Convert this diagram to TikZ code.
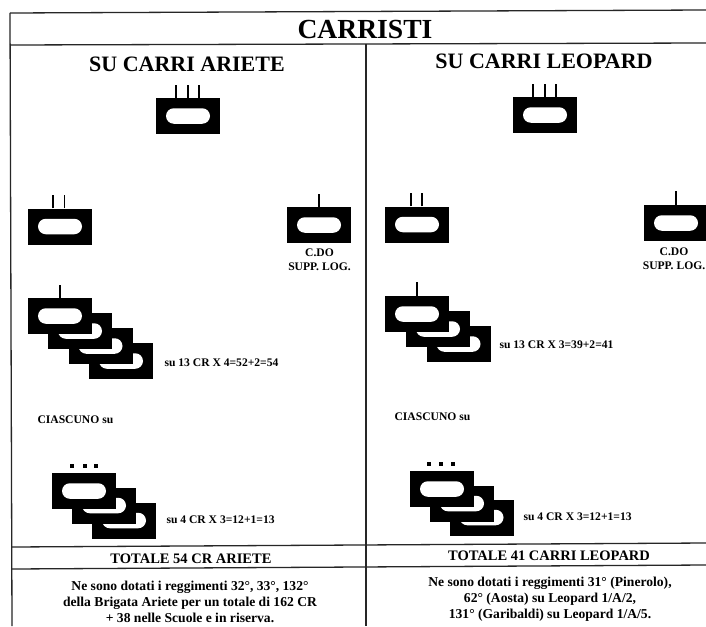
\documentclass[tikz,border=0pt]{standalone}
\usepackage{fontspec}
\setmainfont{Liberation Serif}
\usetikzlibrary{shapes.misc}
\tikzset{
  body/.style={rectangle,fill=black,draw=none,inner sep=0pt,minimum width=64pt,minimum height=36pt},
  hole/.style={rounded rectangle,fill=white,draw=none,inner sep=0pt,minimum width=44pt,minimum height=15.5pt},
  tick/.style={line width=1.3pt,black},
  frameline/.style={line width=1.3pt,black!85},
  dot/.style={rectangle,fill=black,inner sep=0pt,minimum width=4pt,minimum height=4pt},
  title/.style={font=\bfseries\fontsize{27.6pt}{30pt}\selectfont},
  head/.style={font=\bfseries\fontsize{22pt}{24pt}\selectfont},
  small/.style={font=\bfseries\fontsize{11.6pt}{14pt}\selectfont},
  total/.style={font=\bfseries\fontsize{14.5pt}{16pt}\selectfont},
  note/.style={font=\bfseries\fontsize{13.6pt}{16pt}\selectfont},
}
\newcommand{\tanksym}[3]{%
  \node[body] (#1) at (#2,#3) {};
  \node[hole] (#1h) at (#2,#3) {};
}
\begin{document}
\begin{tikzpicture}[x=1pt,y=-1pt]
\clip (0,0) rectangle (706,626);
\fill[white] (0,0) rectangle (706,626);
% frame
\coordinate (tl) at (10,13);
\coordinate (tr) at (706,10);
\coordinate (hl) at (10,45);
\coordinate (hr) at (706,43);
\coordinate (bl) at (12,626);
\coordinate (d1) at (366,44);
\coordinate (d2) at (366,626);
\coordinate (s1) at (12,547);
\coordinate (s2) at (706,543);
\coordinate (u1) at (12,569);
\coordinate (u2) at (706,565);
\draw[frameline] (tl) -- (tr);
\draw[frameline] (hl) -- (hr);
\draw[frameline] (tl) -- (bl);
\draw[frameline] (d1) -- (d2);
\draw[frameline] (s1) -- (s2);
\draw[frameline] (u1) -- (u2);
% titles
\node[title] (ttl) at (365,29) {CARRISTI};
\node[head] (hA) at (187,64) {SU CARRI ARIETE};
\node[head] (hL) at (544,61) {SU CARRI LEOPARD};
% Ariete
\tanksym{a1}{188}{116}
\draw[tick] ([xshift=-12pt]a1.north) -- ++(0,-13);
\draw[tick] (a1.north) -- ++(0,-13);
\draw[tick] ([xshift=11pt]a1.north) -- ++(0,-13);
\tanksym{a2}{60}{226.5}
\draw[tick] ([xshift=-7pt]a2.north) -- ++(0,-13);
\draw[tick] ([xshift=4.5pt]a2.north) -- ++(0,-13);
\tanksym{a3}{319}{225}
\draw[tick] (a3.north) -- ++(0,-13);
\node[small,align=center] (a3t) at (319.5,260) {C.DO\\SUPP. LOG.};
\tanksym{a7}{121}{361}
\tanksym{a6}{100.5}{346}
\tanksym{a5}{80}{331}
\tanksym{a4}{60}{316}
\draw[tick] (a4.north) -- ++(0,-13);
\node[small,anchor=west] (a4t) at (161,362.5) {su 13 CR X 4=52+2=54};
\node[small,anchor=west] (a5t) at (34,420) {CIASCUNO su};
\tanksym{a10}{124}{520.5}
\tanksym{a9}{104}{505.5}
\tanksym{a8}{84}{491}
\node[dot] (ad1) at (72,465.5) {};
\node[dot] (ad2) at (84.5,465.5) {};
\node[dot] (ad3) at (96,465.5) {};
\node[small,anchor=west] (a8t) at (163,520) {su 4 CR X 3=12+1=13};
\node[total] (aT) at (191,559) {TOTALE 54 CR ARIETE};
\node[note,align=center] (aN) at (190,601.5) {Ne sono dotati i reggimenti 32°, 33°, 132°\\della Brigata Ariete per un totale di 162 CR\\+ 38 nelle Scuole e in riserva.};
% Leopard
\tanksym{b1}{545}{115}
\draw[tick] ([xshift=-12pt]b1.north) -- ++(0,-13);
\draw[tick] (b1.north) -- ++(0,-13);
\draw[tick] ([xshift=11pt]b1.north) -- ++(0,-13);
\tanksym{b2}{417}{224.5}
\draw[tick] ([xshift=-6pt]b2.north) -- ++(0,-13);
\draw[tick] ([xshift=5pt]b2.north) -- ++(0,-13);
\tanksym{b3}{676}{223}
\draw[tick] (b3.north) -- ++(0,-14);
\node[small,align=center] (b3t) at (674,258.5) {C.DO\\SUPP. LOG.};
\tanksym{b6}{458.5}{344}
\tanksym{b5}{438}{329}
\tanksym{b4}{417}{314}
\draw[tick] (b4.north) -- ++(0,-14);
\node[small,anchor=west] (b4t) at (496,345) {su 13 CR X 3=39+2=41};
\node[small,anchor=west] (b5t) at (391,417) {CIASCUNO su};
\tanksym{b9}{481.5}{517.5}
\tanksym{b8}{462}{503.5}
\tanksym{b7}{442}{489}
\node[dot] (bd1) at (429,463.5) {};
\node[dot] (bd2) at (441,463.5) {};
\node[dot] (bd3) at (453,463.5) {};
\node[small,anchor=west] (b7t) at (520,516.5) {su 4 CR X 3=12+1=13};
\node[total] (bT) at (549,556) {TOTALE 41 CARRI LEOPARD};
\node[note,align=center] (bN) at (550,599) {Ne sono dotati i reggimenti 31° (Pinerolo),\\62° (Aosta) su Leopard 1/A/2,\\131° (Garibaldi) su Leopard 1/A/5.};
\end{tikzpicture}
\end{document}
